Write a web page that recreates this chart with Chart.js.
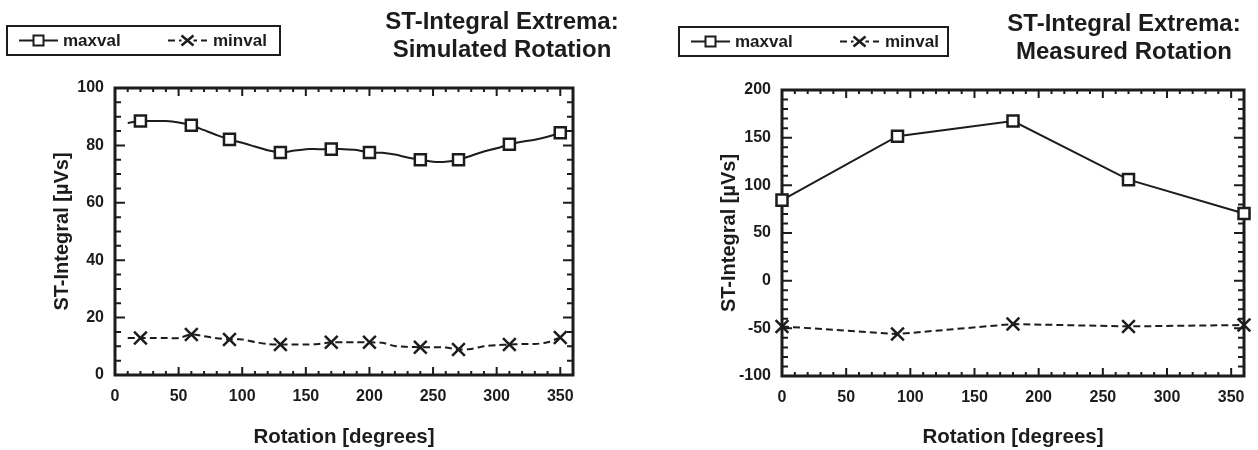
<!DOCTYPE html>
<html>
<head>
<meta charset="utf-8">
<script src="https://cdn.jsdelivr.net/npm/chart.js@4.4.0/dist/chart.umd.min.js"></script>
<style>
body { margin: 0; background: #fff; }
#wrap { position: relative; width: 1258px; height: 450px; }
.box { position: absolute; top: 0; width: 629px; height: 450px; }
#left { left: 0; }
#right { left: 629px; }
</style>
</head>
<body>
<div id="wrap">
  <div class="box" id="left"><canvas id="simChart"></canvas></div>
  <div class="box" id="right"><canvas id="measChart"></canvas></div>
</div>
<script>
// Simulated rotation (curve read every 10 degrees, markers on some of them)
const simAngles = [10, 20, 30, 40, 50, 60, 70, 80, 90, 100, 110, 120, 130, 140, 150, 160, 170, 180, 190, 200, 210, 220, 230, 240, 250, 260, 270, 280, 290, 300, 310, 320, 330, 340, 350];
const simMax = [87.8, 88.5, 88.5, 88.5, 88.0, 87.0, 85.3, 83.6, 82.1, 80.9, 79.6, 78.3, 77.5, 78.1, 78.7, 78.7, 78.7, 78.7, 78.4, 77.5, 77.4, 76.8, 75.8, 75.0, 74.3, 74.3, 75.0, 76.4, 77.9, 79.0, 80.4, 81.3, 82.0, 83.0, 84.4];
const simMin = [12.9, 12.9, 12.9, 12.9, 12.9, 14.1, 13.5, 12.8, 12.4, 12.4, 11.5, 10.8, 10.6, 10.6, 10.6, 10.8, 11.4, 11.4, 11.4, 11.4, 11.2, 10.1, 9.8, 9.7, 9.7, 9.6, 8.9, 9.1, 10.0, 10.4, 10.6, 10.8, 10.8, 11.4, 13.1];
const simMarked = [20, 60, 90, 130, 170, 200, 240, 270, 310, 350];

// Measured rotation
const measAngles = [0, 90, 180, 270, 360];
const measMax = [84.5, 151.5, 167.5, 106, 70.5];
const measMin = [-48, -56, -45.5, -48, -46.5];

// Tick labels
const xTicks = [0, 50, 100, 150, 200, 250, 300, 350];
const simYTicks = [0, 20, 40, 60, 80, 100];
const measYTicks = [-100, -50, 0, 50, 100, 150, 200];

const seriesNames = ['maxval', 'minval'];
const simTitle = ['ST-Integral Extrema:', 'Simulated Rotation'];
const measTitle = ['ST-Integral Extrema:', 'Measured Rotation'];
const xTitle = 'Rotation [degrees]';
const yTitle = 'ST-Integral [µVs]';

const ink = '#1c1c1c';
const family = "'Liberation Sans', Arial, Helvetica, sans-serif";

function zip(xs, ys) {
    return xs.map((x, i) => ({ x: x, y: ys[i] }));
}

// Box frame with inward ticks on all four sides
const framePlugin = {
    id: 'frame',
    beforeDatasetsDraw(chart, args, opts) {
        const { ctx, chartArea: a, scales: { x, y } } = chart;
        ctx.save();
        ctx.strokeStyle = ink;
        ctx.lineWidth = 2;
        ctx.beginPath();
        for (let v = x.min; v <= x.max + 1e-6; v += opts.xMinor) {
            const px = x.getPixelForValue(v);
            const len = Math.abs(v % opts.xMajor) < 1e-6 ? 8 : 4;
            ctx.moveTo(px, a.bottom); ctx.lineTo(px, a.bottom - len);
            ctx.moveTo(px, a.top); ctx.lineTo(px, a.top + len);
        }
        for (let v = y.min; v <= y.max + 1e-6; v += opts.yMinor) {
            const py = y.getPixelForValue(v);
            const len = Math.abs(v % opts.yMajor) < 1e-6 ? 10 : 6;
            ctx.moveTo(a.left, py); ctx.lineTo(a.left + len, py);
            ctx.moveTo(a.right, py); ctx.lineTo(a.right - len, py);
        }
        ctx.stroke();
        ctx.lineWidth = 3;
        ctx.strokeRect(a.left, a.top, a.width, a.height);
        ctx.restore();
    }
};

// Boxed legend at top left and two-line title at top right
const headerPlugin = {
    id: 'header',
    afterDraw(chart, args, opts) {
        const ctx = chart.ctx;
        const [bx, by, bw, bh] = opts.box;
        const cy = by + bh / 2;
        ctx.save();
        ctx.strokeStyle = ink;
        ctx.fillStyle = ink;
        ctx.lineWidth = 2;
        ctx.strokeRect(bx, by, bw, bh);

        const sets = chart.data.datasets;
        const starts = [bx + 12, bx + 161];
        sets.forEach((ds, i) => {
            const sx = starts[i];
            const w = 39;
            ctx.save();
            ctx.lineWidth = 2;
            ctx.setLineDash(ds.borderDash || []);
            ctx.beginPath();
            ctx.moveTo(sx, cy); ctx.lineTo(sx + w, cy);
            ctx.stroke();
            ctx.restore();
            const mx = sx + w / 2;
            ctx.lineWidth = 2;
            if (ds.pointStyle === 'rect') {
                ctx.fillStyle = '#fff';
                ctx.fillRect(mx - 5, cy - 5, 10, 10);
                ctx.strokeRect(mx - 5, cy - 5, 10, 10);
            } else {
                ctx.fillStyle = '#fff';
                ctx.fillRect(mx - 6, cy - 6, 12, 12);
                ctx.lineWidth = 2.5;
                ctx.beginPath();
                ctx.moveTo(mx - 6, cy - 5); ctx.lineTo(mx + 6, cy + 5);
                ctx.moveTo(mx + 6, cy - 5); ctx.lineTo(mx - 6, cy + 5);
                ctx.stroke();
            }
            ctx.fillStyle = ink;
            ctx.font = 'bold 17px ' + family;
            ctx.textAlign = 'left';
            ctx.textBaseline = 'middle';
            ctx.fillText(ds.label, sx + w + (i === 0 ? 5 : 6), cy + 1);
        });

        ctx.font = 'bold 24px ' + family;
        ctx.textAlign = 'center';
        ctx.textBaseline = 'middle';
        opts.title.forEach((line, i) => {
            ctx.fillText(line, opts.titleX, opts.titleY + i * opts.titleGap);
        });
        ctx.restore();
    }
};

function makeChart(id, cfg) {
    const ctx = document.getElementById(id).getContext('2d');
    return new Chart(ctx, {
        type: 'line',
        data: {
            datasets: [{
                label: seriesNames[0],
                data: cfg.max,
                borderColor: ink,
                borderWidth: 2,
                backgroundColor: '#fff',
                pointStyle: 'rect',
                pointBorderColor: ink,
                pointBackgroundColor: '#fff',
                pointBorderWidth: 2.5,
                pointRadius: cfg.radius(7.8),
                pointHoverRadius: cfg.radius(7.8),
                tension: cfg.tension,
                clip: false
            }, {
                label: seriesNames[1],
                data: cfg.min,
                borderColor: ink,
                borderWidth: 2,
                borderDash: [7, 4],
                backgroundColor: '#fff',
                pointStyle: 'crossRot',
                pointBorderColor: ink,
                pointBorderWidth: 2.5,
                pointRadius: cfg.radius(9),
                pointHoverRadius: cfg.radius(9),
                tension: cfg.tension,
                clip: false
            }]
        },
        options: {
            responsive: true,
            maintainAspectRatio: false,
            animation: false,
            layout: { padding: { top: cfg.top, right: cfg.right, left: 0, bottom: 0 } },
            plugins: {
                legend: { display: false },
                tooltip: { enabled: false },
                frame: cfg.frame,
                header: cfg.header
            },
            scales: {
                x: {
                    type: 'linear',
                    min: 0,
                    max: 360,
                    grid: { display: false, drawTicks: false },
                    border: { display: false },
                    afterBuildTicks: function(scale) {
                        scale.ticks = xTicks.map(v => ({ value: v }));
                    },
                    afterFit: function(scale) {
                        scale.height = cfg.xHeight;
                    },
                    ticks: {
                        color: ink,
                        padding: 12,
                        maxRotation: 0,
                        font: { family: family, size: 16, weight: 'bold' }
                    },
                    title: {
                        display: true,
                        text: xTitle,
                        color: ink,
                        padding: { top: 0, bottom: 0 },
                        font: { family: family, size: 20.5, weight: 'bold' }
                    }
                },
                y: {
                    min: cfg.yTicks[0],
                    max: cfg.yTicks[cfg.yTicks.length - 1],
                    grid: { display: false, drawTicks: false },
                    border: { display: false },
                    afterBuildTicks: function(scale) {
                        scale.ticks = cfg.yTicks.map(v => ({ value: v }));
                    },
                    afterFit: function(scale) {
                        scale.width = cfg.yWidth;
                    },
                    ticks: {
                        color: ink,
                        padding: 11,
                        font: { family: family, size: 16, weight: 'bold' }
                    },
                    title: {
                        display: true,
                        text: yTitle,
                        color: ink,
                        padding: { top: cfg.yTitlePad, bottom: 0 },
                        font: { family: family, size: 20, weight: 'bold' }
                    }
                }
            }
        },
        plugins: [framePlugin, headerPlugin]
    });
}

makeChart('simChart', {
    max: zip(simAngles, simMax),
    min: zip(simAngles, simMin),
    radius: r => ctx => simMarked.includes(simAngles[ctx.dataIndex]) ? r : 0,
    tension: 0.3,
    yTicks: simYTicks,
    top: 88,
    right: 56,
    xHeight: 75,
    yWidth: 115,
    yTitlePad: 50,
    frame: { xMinor: 10, xMajor: 50, yMinor: 5, yMajor: 20 },
    header: { box: [7, 26, 273, 29], title: simTitle, titleX: 502, titleY: 22, titleGap: 28 }
});

makeChart('measChart', {
    max: zip(measAngles, measMax),
    min: zip(measAngles, measMin),
    radius: r => r,
    tension: 0,
    yTicks: measYTicks,
    top: 90,
    right: 14,
    xHeight: 74,
    yWidth: 153,
    yTitlePad: 88,
    frame: { xMinor: 10, xMajor: 50, yMinor: 10, yMajor: 50 },
    header: { box: [50, 27, 269, 29], title: measTitle, titleX: 495, titleY: 24, titleGap: 28 }
});
</script>
</body>
</html>
